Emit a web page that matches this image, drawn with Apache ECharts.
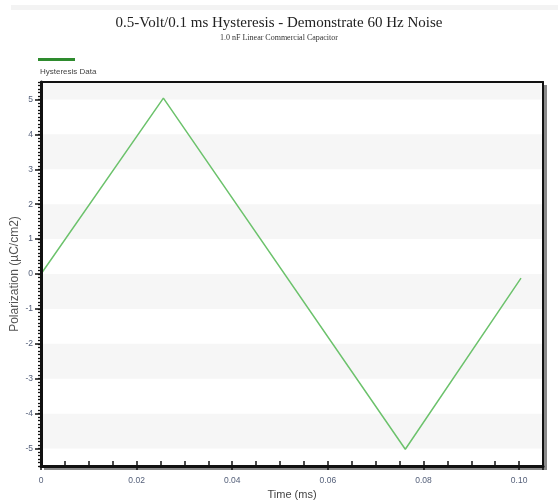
<!DOCTYPE html>
<html><head><meta charset="utf-8">
<script src="https://cdn.jsdelivr.net/npm/echarts@6/dist/echarts.min.js"></script>
<style>html,body{margin:0;padding:0;background:#fff}#c{width:558px;height:501px}</style>
</head><body><div id="c"></div>
<script>
var titleText = '0.5-Volt/0.1 ms Hysteresis - Demonstrate 60 Hz Noise';
var subtitleText = '1.0 nF Linear Commercial Capacitor';
var seriesName = 'Hysteresis Data';
var xAxisName = 'Time (ms)';
var yAxisName = 'Polarization (\u00b5C/cm2)';
var timeMs = [0, 0.0256, 0.0762, 0.1004];
var polarization = [0, 5.04, -5.02, -0.12];
var xTickLabels = [0, 0.02, 0.04, 0.06, 0.08, 0.10];
var yTickLabels = [-5, -4, -3, -2, -1, 0, 1, 2, 3, 4, 5];
var shadedBands = [[5, 5.5], [3, 4], [1, 2], [-1, 0], [-3, -2], [-5, -4]];

var data = timeMs.map(function (t, i) { return [t, polarization[i]]; });
var chart = echarts.init(document.getElementById('c'));
function near(v, arr) { for (var i = 0; i < arr.length; i++) if (Math.abs(v - arr[i]) < 1e-6) return arr[i]; return null; }
var labelFont = { fontFamily: 'Liberation Sans', fontSize: 8.5, color: '#55607a' };
var frameAxis = { axisTick: { show: false }, axisLabel: { show: false }, splitLine: { show: false } };
chart.setOption({
  animation: false,
  backgroundColor: '#fff',
  title: {
    text: titleText, subtext: subtitleText, left: 'center', top: 11, itemGap: 3,
    textStyle: { fontFamily: 'Liberation Serif', fontSize: 15, fontWeight: 'normal', color: '#222' },
    subtextStyle: { fontFamily: 'Liberation Serif', fontSize: 8, color: '#333' }
  },
  legend: {
    left: 38, top: 58, padding: 0, icon: 'rect', itemWidth: 37, itemHeight: 3, itemGap: 0,
    data: [{ name: seriesName, itemStyle: { color: '#2e8b2e' } }],
    formatter: function () { return ''; }, selectedMode: false
  },
  graphic: [
    { type: 'rect', shape: { x: 11, y: 5, width: 547, height: 5 }, style: { fill: '#f3f3f3' }, silent: true },
    { type: 'text', left: 40, top: 68, style: { text: seriesName, font: '8px "Liberation Sans"', fill: '#444' } },
    { type: 'rect', shape: { x: 544, y: 85, width: 3, height: 385 }, style: { fill: '#8a8a8a' }, silent: true },
    { type: 'rect', shape: { x: 44, y: 467, width: 503, height: 3 }, style: { fill: '#8a8a8a' }, silent: true }
  ],
  grid: { left: 41, top: 82, right: 15, bottom: 35, outerBoundsMode: 'none', containLabel: false },
  xAxis: [{
    type: 'value', min: 0, max: 0.105, interval: 0.005, z: 10,
    name: xAxisName, nameLocation: 'middle', nameGap: 22,
    nameTextStyle: { fontFamily: 'Liberation Sans', fontSize: 11, color: '#444' },
    axisLine: { show: true, onZero: false, lineStyle: { color: '#111', width: 3 } },
    axisTick: { show: true, inside: true, length: 5, lineStyle: { color: '#111', width: 1.5 } },
    axisLabel: Object.assign({ margin: 10,
      formatter: function (v) { var n = near(v, xTickLabels); return n === null ? '' : (n === 0 ? '0' : n.toFixed(2)); } }, labelFont),
    splitLine: { show: false }
  }, {
    type: 'value', min: 0, max: 0.105, interval: 0.02, position: 'bottom', z: 10,
    axisLine: { show: false, onZero: false },
    axisTick: { show: true, inside: false, length: 4, lineStyle: { color: '#111', width: 1.5 } },
    axisLabel: { show: false }, splitLine: { show: false }
  }, Object.assign({
    type: 'value', min: 0, max: 0.105, position: 'top', z: 10,
    axisLine: { show: true, onZero: false, lineStyle: { color: '#111', width: 2 } }
  }, frameAxis)],
  yAxis: [{
    type: 'value', min: -5.5, max: 5.5, interval: 0.1, z: 10,
    name: yAxisName, nameLocation: 'middle', nameGap: 20,
    nameTextStyle: { fontFamily: 'Liberation Sans', fontSize: 12, color: '#555' },
    axisLine: { show: true, onZero: false, lineStyle: { color: '#111', width: 3 } },
    axisTick: { show: true, length: 3, lineStyle: { color: '#111', width: 1.3 } },
    axisLabel: { show: false },
    splitLine: { show: false }
  }, {
    type: 'value', min: -5.5, max: 5.5, position: 'left', z: 10,
    axisLine: { show: false, onZero: false },
    axisTick: { show: true, length: 6, customValues: yTickLabels, lineStyle: { color: '#111', width: 1.5 } },
    axisLabel: Object.assign({ margin: 8, customValues: yTickLabels }, labelFont),
    splitLine: { show: false }
  }, Object.assign({
    type: 'value', min: -5.5, max: 5.5, position: 'right', z: 10,
    axisLine: { show: true, onZero: false, lineStyle: { color: '#111', width: 2 } }
  }, frameAxis)],
  series: [{
    name: seriesName, type: 'line', data: data, showSymbol: false, symbol: 'none',
    lineStyle: { color: '#6cc26c', width: 1.5 }, itemStyle: { color: '#6cc26c' },
    markArea: {
      silent: true, itemStyle: { color: '#f6f6f6' },
      data: shadedBands.map(function (b) { return [{ yAxis: b[0] }, { yAxis: b[1] }]; })
    }
  }]
});
</script></body></html>
